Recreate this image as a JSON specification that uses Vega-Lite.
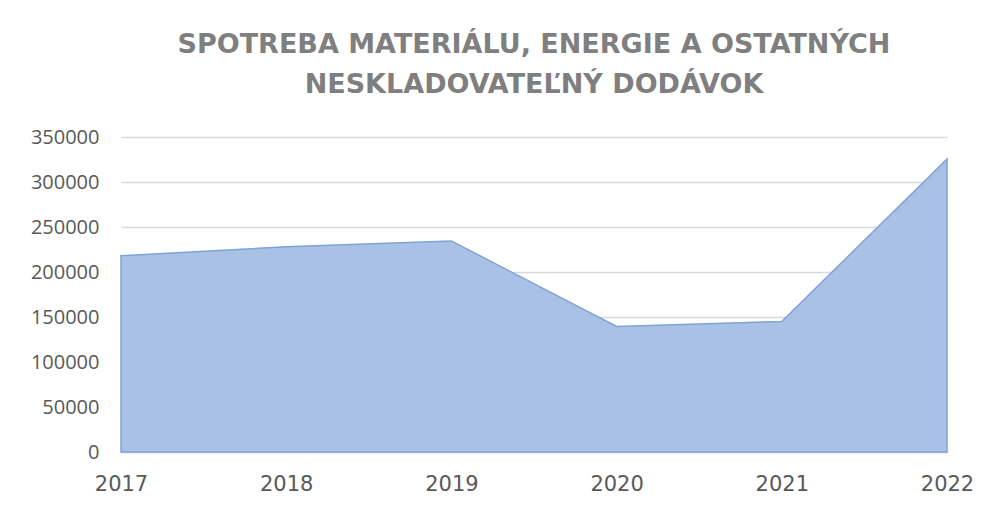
{
  "$schema": "https://vega.github.io/schema/vega-lite/v6.json",
  "autosize": "none",
  "width": 826,
  "height": 315,
  "padding": {"left": 121, "top": 137, "right": 53, "bottom": 60},
  "background": "white",
  "config": {"view": {"stroke": null}},
  "title": {
    "text": ["SPOTREBA MATERIÁLU, ENERGIE A OSTATNÝCH", "NESKLADOVATEĽNÝ DODÁVOK"],
    "font": "DejaVu Sans",
    "fontSize": 27,
    "fontWeight": "bold",
    "color": "#7f7f7f",
    "lineHeight": 40,
    "anchor": "middle",
    "offset": 28
  },
  "data": {
    "values": [
      {"rok": "2017", "hodnota": 218000},
      {"rok": "2018", "hodnota": 228000},
      {"rok": "2019", "hodnota": 234500},
      {"rok": "2020", "hodnota": 139500},
      {"rok": "2021", "hodnota": 145000},
      {"rok": "2022", "hodnota": 325500}
    ]
  },
  "mark": {"type": "area", "fill": "#a9c1e4", "stroke": "#7fa3d6", "strokeWidth": 1.5, "fillOpacity": 1},
  "encoding": {
    "x": {
      "field": "rok",
      "type": "ordinal",
      "scale": {"padding": 0},
      "axis": {
        "title": null,
        "labelAngle": 0,
        "labelFont": "DejaVu Sans",
        "labelFontSize": 21,
        "labelColor": "#595959",
        "labelPadding": 21,
        "ticks": false,
        "domain": true,
        "domainColor": "#d9d9d9",
        "domainWidth": 1.5,
        "grid": false
      }
    },
    "y": {
      "field": "hodnota",
      "type": "quantitative",
      "scale": {"domain": [0, 350000], "nice": false},
      "axis": {
        "title": null,
        "values": [0, 50000, 100000, 150000, 200000, 250000, 300000, 350000],
        "format": "d",
        "labelFont": "Open Sans",
        "labelFontSize": 20,
        "labelColor": "#595959",
        "labelPadding": 22,
        "ticks": false,
        "domain": false,
        "grid": true,
        "gridColor": "#d9d9d9",
        "gridWidth": 1.5
      }
    }
  }
}
